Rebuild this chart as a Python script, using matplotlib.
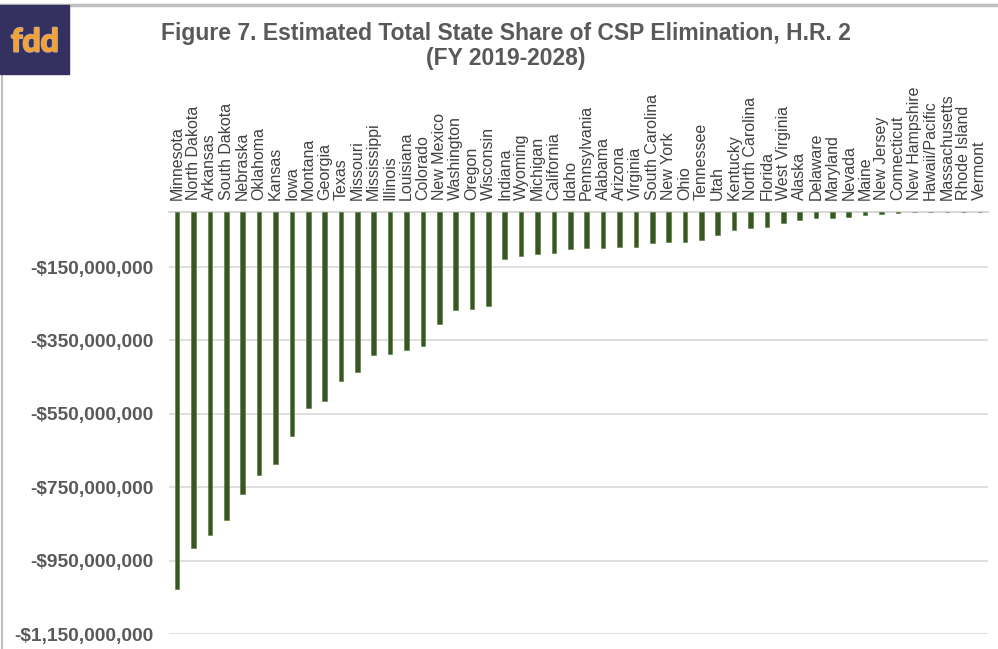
import matplotlib.pyplot as plt
from matplotlib.patches import Rectangle
from matplotlib.ticker import FixedLocator, FuncFormatter
import matplotlib.patheffects as pe

plt.rcParams["font.family"] = ["Liberation Sans", "DejaVu Sans"]

# %%
# State share of CSP elimination (millions of dollars)
states = [
    "Minnesota", "North Dakota", "Arkansas", "South Dakota", "Nebraska",
    "Oklahoma", "Kansas", "Iowa", "Montana", "Georgia", "Texas", "Missouri",
    "Mississippi", "Illinois", "Louisiana", "Colorado", "New Mexico",
    "Washington", "Oregon", "Wisconsin", "Indiana", "Wyoming", "Michigan",
    "California", "Idaho", "Pennsylvania", "Alabama", "Arizona", "Virginia",
    "South Carolina", "New York", "Ohio", "Tennessee", "Utah", "Kentucky",
    "North Carolina", "Florida", "West Virginia", "Alaska", "Delaware",
    "Maryland", "Nevada", "Maine", "New Jersey", "Connecticut",
    "New Hampshire", "Hawaii/Pacific", "Massachusetts", "Rhode Island",
    "Vermont",
]
share_musd = [
    -1027, -915, -879, -840, -769, -717, -688, -610, -535, -515,
    -460, -437, -389, -386, -376, -364, -304, -266, -263, -256,
    -128, -121, -114, -112, -102, -98, -98, -95, -95, -85,
    -82, -82, -75, -63, -50, -43, -40, -29, -22, -16,
    -16, -14, -9, -4.5, -3, -0.5, -0.3, -0.2, -0.1, 0,
]
ytick_musd = [-150, -350, -550, -750, -950, -1150]

title = "Figure 7. Estimated Total State Share of CSP Elimination, H.R. 2\n(FY 2019-2028)"

# %%
fig = plt.figure(figsize=(9.98, 6.49), dpi=100)
ax = fig.add_axes([169 / 998, 1 - 634 / 649, (988 - 169) / 998, (634 - 212) / 649])

x = range(len(states))
ax.bar(x, [v * 1e6 for v in share_musd], width=0.28, color="#375623",
       edgecolor="#4f7a33", linewidth=0.4, zorder=3)

ax.set_xlim(-0.5, len(states) - 0.5)
ax.set_ylim(-1150e6, 0)

ax.yaxis.set_major_locator(FixedLocator([v * 1e6 for v in ytick_musd]))
ax.yaxis.set_major_formatter(FuncFormatter(lambda v, p: "-${:,.0f}".format(abs(v))))
ax.grid(axis="y", color="#d9d9d9", lw=1.2, zorder=0)
ax.tick_params(axis="y", length=0, pad=11, labelsize=13.8, labelcolor="#595959")
for lab in ax.get_yticklabels():
    lab.set_fontweight("bold")

ax.xaxis.tick_top()
ax.set_xticks(list(x))
ax.set_xticklabels(states, rotation=90, fontsize=11.5, color="#404040")
ax.tick_params(axis="x", length=0, pad=8.5)

for side in ["left", "right", "bottom"]:
    ax.spines[side].set_visible(False)
ax.spines["top"].set_color("#d9d9d9")
ax.spines["top"].set_linewidth(1.5)

fig.text(506 / 998, 1 - 46 / 649, title, ha="center", va="center",
         fontsize=16.5, fontweight="bold", color="#595959", linespacing=1.1)

# frame lines and logo
fig.add_artist(plt.Line2D([0, 1], [1 - 4.5 / 649] * 2, color="#bfbfbf", lw=2.5,
                          transform=fig.transFigure))
fig.add_artist(plt.Line2D([1.5 / 998] * 2, [0, 1 - 4.5 / 649], color="#bfbfbf", lw=1.5,
                          transform=fig.transFigure))
fig.add_artist(Rectangle((0, 1 - 74 / 649), 69 / 998, 69 / 649, color="#343160",
                         transform=fig.transFigure, zorder=5))
fig.text(35 / 998, 1 - 42 / 649, "fdd", ha="center", va="center", fontsize=23,
         fontweight="bold", color="#f7a12f", family=["Lato", "DejaVu Sans"], zorder=6,
         path_effects=[pe.withStroke(linewidth=1.5, foreground="#c9a88a")])

plt.savefig("out.png", dpi=100)
